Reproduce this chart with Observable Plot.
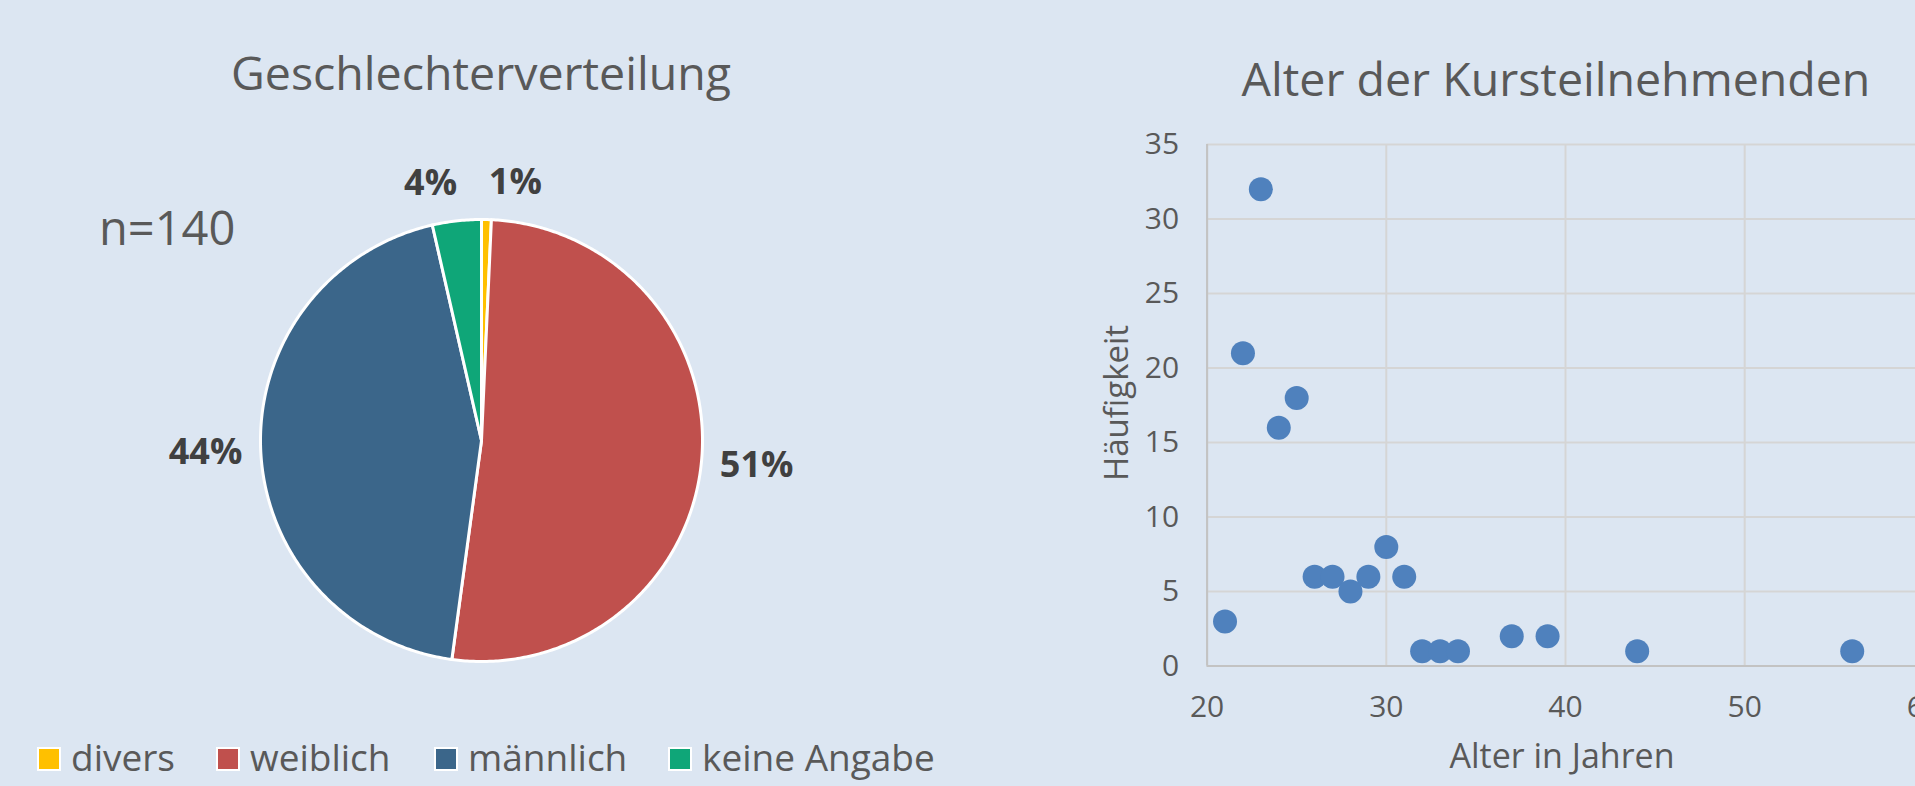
<!DOCTYPE html>
<html><head><meta charset="utf-8">
<script src="https://cdn.jsdelivr.net/npm/d3@7"></script>
<script src="https://cdn.jsdelivr.net/npm/@observablehq/plot@0.6"></script>
<style>
html,body{margin:0;padding:0;overflow:hidden;background:#dce6f2;}
#page{position:relative;width:1915px;height:786px;overflow:hidden;background:#dce6f2;}
#page svg{position:absolute;}
</style></head><body><div id="page"></div>
<script>
// ---- data ----
const genderCategories = ["divers", "weiblich", "männlich", "keine Angabe"];
const genderCounts = [1, 72, 62, 5];
const genderLabels = ["1%", "51%", "44%", "4%"];
const genderColors = ["#FFC000", "#C0504D", "#3B668A", "#0FA678"];
const sampleSizeText = "n=140";
const pieTitle = "Geschlechterverteilung";

const ages = [21, 22, 23, 24, 25, 26, 27, 28, 29, 30, 31, 32, 33, 34, 37, 39, 44, 56];
const frequencies = [3, 21, 32, 16, 18, 6, 6, 5, 6, 8, 6, 1, 1, 1, 2, 2, 1, 1];
const xTicks = [20, 30, 40, 50, 60];
const yTicks = [0, 5, 10, 15, 20, 25, 30, 35];
const scatterTitle = "Alter der Kursteilnehmenden";
const xLabel = "Alter in Jahren";
const yLabel = "Häufigkeit";

const FONT = "'Open Sans', sans-serif";
const TXT = "#595959";
const page = document.getElementById("page");

// ---- pie ----
const arcs = d3.pie().sort(null).value(d => d)(genderCounts);
const slicePts = [];
arcs.forEach((a, i) => {
  const n = Math.max(4, Math.ceil((a.endAngle - a.startAngle) / 0.01));
  slicePts.push({cat: genderCategories[i], x: 0, y: 0});
  for (let k = 0; k <= n; k++) {
    const t = a.startAngle + (a.endAngle - a.startAngle) * k / n;
    slicePts.push({cat: genderCategories[i], x: Math.sin(t), y: Math.cos(t)});
  }
  slicePts.push({cat: genderCategories[i], x: 0, y: 0});
});
const labelData = arcs.map((a, i) => {
  const m = (a.startAngle + a.endAngle) / 2;
  const share = a.value / d3.sum(genderCounts);
  const r = share < 0.1 ? 1.17 : 1.25;
  return {label: genderLabels[i], x: r * Math.sin(m), y: r * Math.cos(m), share, i};
});

const pie = Plot.plot({
  width: 960, height: 786,
  marginLeft: 260, marginRight: 258, marginTop: 219, marginBottom: 125,
  x: {domain: [-1, 1], axis: null},
  y: {domain: [-1, 1], axis: null},
  color: {domain: genderCategories, range: genderColors},
  style: {background: "transparent", fontFamily: FONT, overflow: "visible"},
  marks: [
    Plot.line(slicePts, {x: "x", y: "y", z: "cat", fill: "cat", stroke: "white", strokeWidth: 3, strokeLinejoin: "round", curve: "linear"}),
    Plot.text(labelData.filter(d => d.share >= 0.1), {x: "x", y: "y", text: "label", fontSize: 36, fontWeight: "bold", fill: "#404040"}),
    Plot.text(labelData.filter(d => d.i === 0), {x: "x", y: "y", text: "label", fontSize: 36, fontWeight: "bold", fill: "#404040", dx: 28}),
    Plot.text(labelData.filter(d => d.i === 3), {x: "x", y: "y", text: "label", fontSize: 36, fontWeight: "bold", fill: "#404040", dx: -22})
  ]
});
pie.style.left = "0px"; pie.style.top = "0px";
page.appendChild(pie);

// ---- scatter ----
const pts = ages.map((a, i) => ({age: a, freq: frequencies[i]}));
const scatter = Plot.plot({
  width: 900, height: 786,
  marginLeft: 146.6, marginRight: 36.6, marginTop: 144.1, marginBottom: 120.4,
  x: {domain: [20, 60]},
  y: {domain: [0, 35]},
  style: {background: "transparent", fontFamily: FONT, overflow: "visible"},
  marks: [
    Plot.gridX(xTicks, {stroke: "#d5d5d5", strokeOpacity: 1, strokeWidth: 2}),
    Plot.gridY(yTicks, {stroke: "#d5d5d5", strokeOpacity: 1, strokeWidth: 2}),
    Plot.ruleX([20], {stroke: "#c3c3c3", strokeWidth: 2}),
    Plot.ruleY([0], {stroke: "#c3c3c3", strokeWidth: 2}),
    Plot.dot(pts, {x: "age", y: "freq", r: 12, fill: "#4F81BD", stroke: "none"}),
    Plot.axisX(xTicks, {tickSize: 0, tickPadding: 30, fontSize: 30, fill: TXT, label: null}),
    Plot.axisY(yTicks, {tickSize: 0, tickPadding: 28, fontSize: 30, fill: TXT, label: null})
  ]
});
scatter.style.left = "1060px"; scatter.style.top = "0px";
page.appendChild(scatter);

// ---- text overlay (titles, legend, axis titles) ----
const ov = d3.select(page).append("svg")
  .attr("width", 1915).attr("height", 786)
  .style("left", "0px").style("top", "0px")
  .style("font-family", FONT);
ov.append("text").attr("x", 481).attr("y", 90).attr("text-anchor", "middle")
  .attr("font-size", 46.5).attr("fill", TXT).text(pieTitle);
ov.append("text").attr("x", 99).attr("y", 245)
  .attr("font-size", 47).attr("fill", TXT).text(sampleSizeText);
ov.append("text").attr("x", 1556).attr("y", 96).attr("text-anchor", "middle")
  .attr("font-size", 46.5).attr("fill", TXT).text(scatterTitle);
ov.append("text").attr("x", 1562).attr("y", 768).attr("text-anchor", "middle")
  .attr("font-size", 34).attr("fill", TXT).text(xLabel);
ov.append("text").attr("transform", "translate(1128,403) rotate(-90)").attr("text-anchor", "middle")
  .attr("font-size", 33).attr("fill", TXT).text(yLabel);

const legendX = [38, 217, 435, 669];
genderCategories.forEach((c, i) => {
  ov.append("rect").attr("x", legendX[i]).attr("y", 748).attr("width", 22).attr("height", 22)
    .attr("fill", genderColors[i]).attr("stroke", "white").attr("stroke-width", 2);
  ov.append("text").attr("x", legendX[i] + 33).attr("y", 771)
    .attr("font-size", 37).attr("fill", TXT).text(c);
});
</script></body></html>
